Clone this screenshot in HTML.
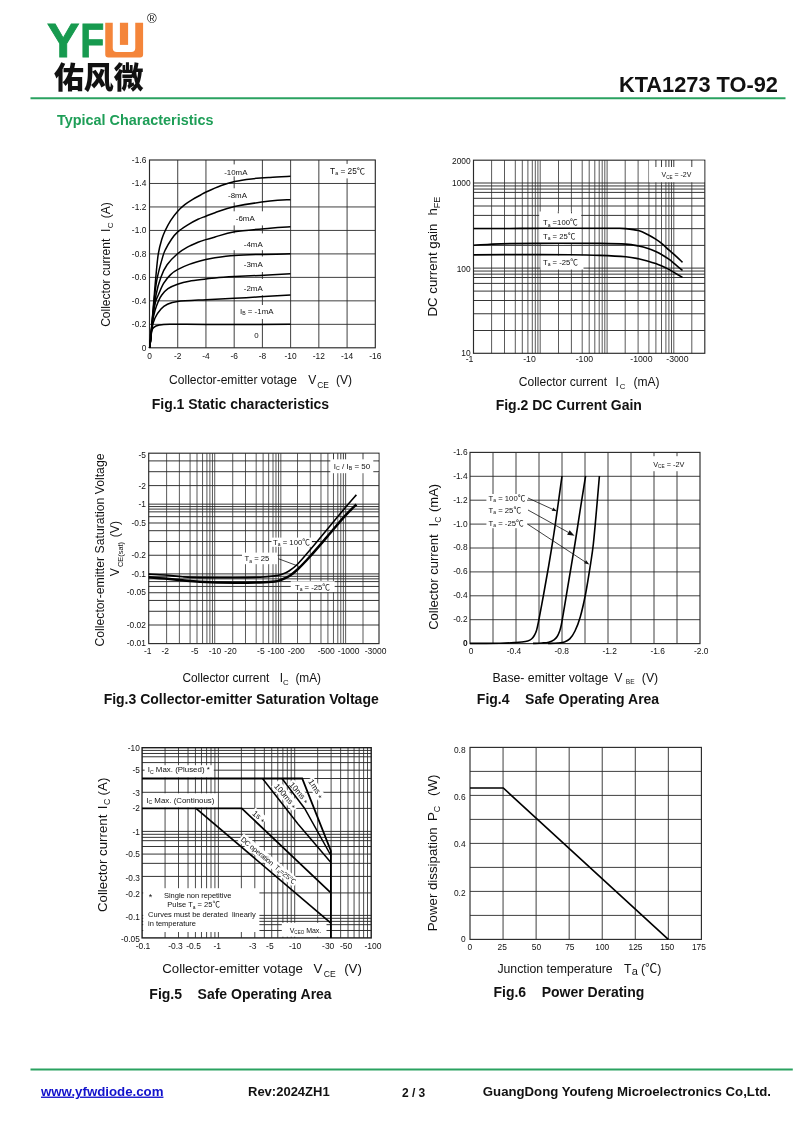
<!DOCTYPE html>
<html lang="en">
<head>
<meta charset="utf-8">
<title>KTA1273 TO-92 - Typical Characteristics</title>
<style>
html,body{margin:0;padding:0;background:#fff;}
body{width:800px;height:1131px;overflow:hidden;font-family:"Liberation Sans","Noto Sans CJK SC",sans-serif;}
svg{display:block;}
svg text{white-space:pre;}
</style>
</head>
<body>
<svg width="800" height="1131" viewBox="0 0 800 1131">
<rect x="0" y="0" width="800" height="1131" fill="#fff"/>
<g font-family="'Liberation Sans', 'Noto Sans CJK SC', sans-serif">
<text x="47" y="57.3" font-size="48.6" text-anchor="start" font-weight="bold" fill="#179a4f" stroke="#179a4f" stroke-width="0.9">Y</text>
<text x="80.2" y="57.3" font-size="48.6" text-anchor="start" font-weight="bold" fill="#179a4f" textLength="24" lengthAdjust="spacingAndGlyphs" stroke="#179a4f" stroke-width="0.9">F</text>
<path d="M105.25 22.75H143.1V54.6a3 3 0 0 1 -3 3H108.25a3 3 0 0 1 -3 -3Z" fill="#f4853a"/>
<path d="M112.75 22H135.25V48a4 4 0 0 1 -4 4H116.75a4 4 0 0 1 -4 -4Z" fill="#fff"/>
<rect x="119.9" y="22.75" width="8.2" height="22.15" fill="#f4853a"/>
<text x="151.8" y="23" font-size="13.2" text-anchor="middle" font-weight="normal" fill="#222">®</text>
<text x="54" y="87.5" font-size="29.6" font-weight="900" fill="#111" font-family="'Noto Sans CJK SC', sans-serif" textLength="89.5" lengthAdjust="spacingAndGlyphs">佑风微</text>
<text x="778" y="92.1" font-size="21.8" text-anchor="end" font-weight="bold" fill="#111">KTA1273 TO-92</text>
<line x1="30.5" y1="98.3" x2="785.5" y2="98.3" stroke="#2aa260" stroke-width="2"/>
<text x="57" y="124.8" font-size="14.4" text-anchor="start" font-weight="bold" fill="#1e9e57">Typical Characteristics</text>
<line x1="177.72" y1="160" x2="177.72" y2="347.8" stroke="#2a2a2a" stroke-width="0.9"/>
<line x1="205.95" y1="160" x2="205.95" y2="347.8" stroke="#2a2a2a" stroke-width="0.9"/>
<line x1="234.18" y1="160" x2="234.18" y2="347.8" stroke="#2a2a2a" stroke-width="0.9"/>
<line x1="262.4" y1="160" x2="262.4" y2="347.8" stroke="#2a2a2a" stroke-width="0.9"/>
<line x1="290.62" y1="160" x2="290.62" y2="347.8" stroke="#2a2a2a" stroke-width="0.9"/>
<line x1="318.85" y1="160" x2="318.85" y2="347.8" stroke="#2a2a2a" stroke-width="0.9"/>
<line x1="347.08" y1="160" x2="347.08" y2="347.8" stroke="#2a2a2a" stroke-width="0.9"/>
<line x1="149.5" y1="183.47" x2="375.3" y2="183.47" stroke="#2a2a2a" stroke-width="0.9"/>
<line x1="149.5" y1="206.95" x2="375.3" y2="206.95" stroke="#2a2a2a" stroke-width="0.9"/>
<line x1="149.5" y1="230.43" x2="375.3" y2="230.43" stroke="#2a2a2a" stroke-width="0.9"/>
<line x1="149.5" y1="253.9" x2="375.3" y2="253.9" stroke="#2a2a2a" stroke-width="0.9"/>
<line x1="149.5" y1="277.38" x2="375.3" y2="277.38" stroke="#2a2a2a" stroke-width="0.9"/>
<line x1="149.5" y1="300.85" x2="375.3" y2="300.85" stroke="#2a2a2a" stroke-width="0.9"/>
<line x1="149.5" y1="324.33" x2="375.3" y2="324.33" stroke="#2a2a2a" stroke-width="0.9"/>
<rect x="149.5" y="160" width="225.8" height="187.8" fill="none" stroke="#2a2a2a" stroke-width="1.15"/>
<rect x="222" y="164.4" width="28" height="12" fill="#fff"/>
<rect x="226" y="188.3" width="23" height="14.1" fill="#fff"/>
<rect x="233" y="211.3" width="31.5" height="14.1" fill="#fff"/>
<rect x="233" y="233.4" width="31.5" height="16.8" fill="#fff"/>
<rect x="243" y="256.5" width="21.5" height="15.5" fill="#fff"/>
<rect x="243" y="279" width="21.5" height="16.2" fill="#fff"/>
<rect x="239.5" y="305" width="34.5" height="14" fill="#fff"/>
<rect x="328" y="163.9" width="39" height="14.5" fill="#fff"/>
<path d="M149.6 347.8C149.83 345.67 150.5 340.47 151 335C151.5 329.53 152.05 321.67 152.6 315C153.15 308.33 153.77 301.3 154.3 295C154.83 288.7 155.13 284.07 155.8 277.2C156.47 270.33 157.3 260.13 158.3 253.8C159.3 247.47 160.63 243.1 161.8 239.2C162.97 235.3 163.83 233.5 165.3 230.4C166.77 227.3 168.57 223.77 170.6 220.6C172.63 217.43 175.13 214.05 177.5 211.4C179.87 208.75 182.27 206.7 184.8 204.7C187.33 202.7 190.05 201.02 192.7 199.4C195.35 197.78 198.47 196.23 200.7 195C202.93 193.77 202.67 193.58 206.1 192C209.53 190.42 216.55 187.25 221.3 185.5C226.05 183.75 229.6 182.6 234.6 181.5C239.6 180.4 245.4 179.58 251.3 178.9C257.2 178.22 263.47 177.83 270 177.4C276.53 176.97 287.08 176.48 290.5 176.3" fill="none" stroke="#000" stroke-width="1.5" stroke-linejoin="round"/>
<path d="M149.6 347.8C149.83 345.83 150.47 341.3 151 336C151.53 330.7 152.18 322.83 152.8 316C153.42 309.17 153.93 301.47 154.7 295C155.47 288.53 156.07 283.55 157.4 277.2C158.73 270.85 161.38 261.47 162.7 256.9C164.02 252.33 163.83 252.75 165.3 249.8C166.77 246.85 169.47 242.15 171.5 239.2C173.53 236.25 174.85 234.45 177.5 232.1C180.15 229.75 183.98 227.23 187.4 225.1C190.82 222.97 194.93 220.78 198 219.3C201.07 217.82 202.97 217.3 205.8 216.2C208.63 215.1 210.2 214.3 215 212.7C219.8 211.1 225.43 208.55 234.6 206.6C243.77 204.65 260.68 202.15 270 201C279.32 199.85 287.08 199.92 290.5 199.7" fill="none" stroke="#000" stroke-width="1.5" stroke-linejoin="round"/>
<path d="M149.6 347.8C149.83 346 150.4 342.3 151 337C151.6 331.7 152.37 323 153.2 316C154.03 309 154.72 301.47 156 295C157.28 288.53 159.05 282.23 160.9 277.2C162.75 272.17 164.33 268.7 167.1 264.8C169.87 260.9 174.12 256.73 177.5 253.8C180.88 250.87 183.98 249.12 187.4 247.2C190.82 245.28 194.93 243.57 198 242.3C201.07 241.03 202.97 240.48 205.8 239.6C208.63 238.72 210.2 238.3 215 237C219.8 235.7 225.43 233.27 234.6 231.8C243.77 230.33 260.68 229.03 270 228.2C279.32 227.37 287.08 227.03 290.5 226.8" fill="none" stroke="#000" stroke-width="1.5" stroke-linejoin="round"/>
<path d="M149.6 347.8C149.82 346.17 150.38 343.47 150.9 338C151.43 332.53 151.98 321 152.75 315C153.52 309 154.57 305.33 155.5 302C156.43 298.67 156.95 298.1 158.3 295C159.65 291.9 161.55 286.8 163.6 283.4C165.65 280 168.28 276.88 170.6 274.6C172.92 272.32 174.4 271.4 177.5 269.7C180.6 268 184.48 266.1 189.2 264.4C193.92 262.7 201.5 260.6 205.8 259.5C210.1 258.4 210.22 258.45 215 257.8C219.78 257.15 227 256.17 234.5 255.6C242 255.03 250.67 254.7 260 254.4C269.33 254.1 285.42 253.9 290.5 253.8" fill="none" stroke="#000" stroke-width="1.5" stroke-linejoin="round"/>
<path d="M149.6 347.8C149.8 346.33 150.4 342.97 150.8 339C151.2 335.03 151.3 328.75 152 324C152.7 319.25 153.92 314.33 155 310.5C156.08 306.67 157.37 303.58 158.5 301C159.63 298.42 160.22 297.05 161.8 295C163.38 292.95 165.38 290.48 168 288.7C170.62 286.92 173.97 285.55 177.5 284.3C181.03 283.05 184.48 282.08 189.2 281.2C193.92 280.32 201.5 279.55 205.8 279C210.1 278.45 210.22 278.3 215 277.9C219.78 277.5 227 277.02 234.5 276.6C242 276.18 250.67 275.87 260 275.4C269.33 274.93 285.42 274.07 290.5 273.8" fill="none" stroke="#000" stroke-width="1.5" stroke-linejoin="round"/>
<path d="M149.6 347.8C149.77 346.5 150.28 342.97 150.6 340C150.92 337.03 150.77 333.67 151.5 330C152.23 326.33 153.42 321.5 155 318C156.58 314.5 159 311.25 161 309C163 306.75 164.25 305.75 167 304.5C169.75 303.25 171 302.3 177.5 301.5C184 300.7 196.5 300.23 206 299.7C215.5 299.17 225.5 298.78 234.5 298.3C243.5 297.82 250.67 297.37 260 296.8C269.33 296.23 285.42 295.22 290.5 294.9" fill="none" stroke="#000" stroke-width="1.5" stroke-linejoin="round"/>
<path d="M149.6 347.8C149.7 346.67 150 343.47 150.2 341C150.4 338.53 150.25 335.23 150.8 333C151.35 330.77 152.05 328.93 153.5 327.6C154.95 326.27 156.75 325.55 159.5 325C162.25 324.45 162.25 324.38 170 324.3C177.75 324.22 191 324.48 206 324.5C221 324.52 245.92 324.43 260 324.4C274.08 324.37 285.42 324.32 290.5 324.3" fill="none" stroke="#000" stroke-width="1.5" stroke-linejoin="round"/>
<text x="235.8" y="174.6" font-size="7.9" text-anchor="middle" font-weight="normal" fill="#111">-10mA</text>
<text x="237.5" y="197.8" font-size="7.9" text-anchor="middle" font-weight="normal" fill="#111">-8mA</text>
<text x="245.25" y="221.3" font-size="7.9" text-anchor="middle" font-weight="normal" fill="#111">-6mA</text>
<text x="253.25" y="246.5" font-size="7.9" text-anchor="middle" font-weight="normal" fill="#111">-4mA</text>
<text x="253.25" y="266.8" font-size="7.9" text-anchor="middle" font-weight="normal" fill="#111">-3mA</text>
<text x="253.25" y="291.1" font-size="7.9" text-anchor="middle" font-weight="normal" fill="#111">-2mA</text>
<text x="256.4" y="337.5" font-size="7.9" text-anchor="middle" font-weight="normal" fill="#111">0</text>
<text x="256.75" y="314.1" font-size="7.9" text-anchor="middle" font-weight="normal" fill="#111">I<tspan dy="1.2" font-size="65%">B</tspan><tspan dy="-1.2">&#8203;</tspan> = -1mA</text>
<text x="347.6" y="174.1" font-size="8.3" text-anchor="middle" font-weight="normal" fill="#111">T<tspan dy="1.2" font-size="65%">a</tspan><tspan dy="-1.2">&#8203;</tspan> = 25℃</text>
<text x="146.3" y="162.9" font-size="8.4" text-anchor="end" font-weight="normal" fill="#111">-1.6</text>
<text x="146.3" y="186.38" font-size="8.4" text-anchor="end" font-weight="normal" fill="#111">-1.4</text>
<text x="146.3" y="209.85" font-size="8.4" text-anchor="end" font-weight="normal" fill="#111">-1.2</text>
<text x="146.3" y="233.33" font-size="8.4" text-anchor="end" font-weight="normal" fill="#111">-1.0</text>
<text x="146.3" y="256.8" font-size="8.4" text-anchor="end" font-weight="normal" fill="#111">-0.8</text>
<text x="146.3" y="280.27" font-size="8.4" text-anchor="end" font-weight="normal" fill="#111">-0.6</text>
<text x="146.3" y="303.75" font-size="8.4" text-anchor="end" font-weight="normal" fill="#111">-0.4</text>
<text x="146.3" y="327.23" font-size="8.4" text-anchor="end" font-weight="normal" fill="#111">-0.2</text>
<text x="146.3" y="350.7" font-size="8.4" text-anchor="end" font-weight="normal" fill="#111">0</text>
<text x="149.5" y="359.2" font-size="8.4" text-anchor="middle" font-weight="normal" fill="#111">0</text>
<text x="177.72" y="359.2" font-size="8.4" text-anchor="middle" font-weight="normal" fill="#111">-2</text>
<text x="205.95" y="359.2" font-size="8.4" text-anchor="middle" font-weight="normal" fill="#111">-4</text>
<text x="234.18" y="359.2" font-size="8.4" text-anchor="middle" font-weight="normal" fill="#111">-6</text>
<text x="262.4" y="359.2" font-size="8.4" text-anchor="middle" font-weight="normal" fill="#111">-8</text>
<text x="290.62" y="359.2" font-size="8.4" text-anchor="middle" font-weight="normal" fill="#111">-10</text>
<text x="318.85" y="359.2" font-size="8.4" text-anchor="middle" font-weight="normal" fill="#111">-12</text>
<text x="347.08" y="359.2" font-size="8.4" text-anchor="middle" font-weight="normal" fill="#111">-14</text>
<text x="375.3" y="359.2" font-size="8.4" text-anchor="middle" font-weight="normal" fill="#111">-16</text>
<text x="169.1" y="384" font-size="12.05" text-anchor="start" font-weight="normal" fill="#111">Collector-emitter votage</text>
<text x="308.3" y="384" font-size="12.05" text-anchor="start" font-weight="normal" fill="#111">V</text>
<text x="317.3" y="387.5" font-size="8.4" text-anchor="start" font-weight="normal" fill="#111">CE</text>
<text x="336" y="384" font-size="12.05" text-anchor="start" font-weight="normal" fill="#111">(V)</text>
<text transform="translate(110.3 326.8) rotate(-90)" font-size="12" fill="#111">Collector current</text>
<text transform="translate(110.3 232) rotate(-90)" font-size="12" fill="#111">I</text>
<text transform="translate(112.8 228.2) rotate(-90)" font-size="8" fill="#111">C</text>
<text transform="translate(110.3 218.3) rotate(-90)" font-size="12" fill="#111">(A)</text>
<text x="240.4" y="409" font-size="14" text-anchor="middle" font-weight="bold" fill="#111" xml:space="preserve">Fig.1 Static characteristics</text>
<line x1="491.6" y1="160.2" x2="491.6" y2="353.3" stroke="#2a2a2a" stroke-width="0.78"/>
<line x1="504.5" y1="160.2" x2="504.5" y2="353.3" stroke="#2a2a2a" stroke-width="0.78"/>
<line x1="515.3" y1="160.2" x2="515.3" y2="353.3" stroke="#2a2a2a" stroke-width="0.78"/>
<line x1="522.3" y1="160.2" x2="522.3" y2="353.3" stroke="#2a2a2a" stroke-width="0.78"/>
<line x1="527.9" y1="160.2" x2="527.9" y2="353.3" stroke="#2a2a2a" stroke-width="0.78"/>
<line x1="532.3" y1="160.2" x2="532.3" y2="353.3" stroke="#2a2a2a" stroke-width="0.78"/>
<line x1="535.3" y1="160.2" x2="535.3" y2="353.3" stroke="#2a2a2a" stroke-width="0.78"/>
<line x1="537.9" y1="160.2" x2="537.9" y2="353.3" stroke="#2a2a2a" stroke-width="0.78"/>
<line x1="540.2" y1="160.2" x2="540.2" y2="353.3" stroke="#2a2a2a" stroke-width="0.78"/>
<line x1="558.5" y1="160.2" x2="558.5" y2="353.3" stroke="#2a2a2a" stroke-width="0.78"/>
<line x1="571.4" y1="160.2" x2="571.4" y2="353.3" stroke="#2a2a2a" stroke-width="0.78"/>
<line x1="582.2" y1="160.2" x2="582.2" y2="353.3" stroke="#2a2a2a" stroke-width="0.78"/>
<line x1="589.2" y1="160.2" x2="589.2" y2="353.3" stroke="#2a2a2a" stroke-width="0.78"/>
<line x1="594.8" y1="160.2" x2="594.8" y2="353.3" stroke="#2a2a2a" stroke-width="0.78"/>
<line x1="599.2" y1="160.2" x2="599.2" y2="353.3" stroke="#2a2a2a" stroke-width="0.78"/>
<line x1="602.2" y1="160.2" x2="602.2" y2="353.3" stroke="#2a2a2a" stroke-width="0.78"/>
<line x1="604.8" y1="160.2" x2="604.8" y2="353.3" stroke="#2a2a2a" stroke-width="0.78"/>
<line x1="607.1" y1="160.2" x2="607.1" y2="353.3" stroke="#2a2a2a" stroke-width="0.78"/>
<line x1="625.2" y1="160.2" x2="625.2" y2="353.3" stroke="#2a2a2a" stroke-width="0.78"/>
<line x1="638.1" y1="160.2" x2="638.1" y2="353.3" stroke="#2a2a2a" stroke-width="0.78"/>
<line x1="648.9" y1="160.2" x2="648.9" y2="353.3" stroke="#2a2a2a" stroke-width="0.78"/>
<line x1="655.9" y1="160.2" x2="655.9" y2="353.3" stroke="#2a2a2a" stroke-width="0.78"/>
<line x1="661.5" y1="160.2" x2="661.5" y2="353.3" stroke="#2a2a2a" stroke-width="0.78"/>
<line x1="665.9" y1="160.2" x2="665.9" y2="353.3" stroke="#2a2a2a" stroke-width="0.78"/>
<line x1="668.9" y1="160.2" x2="668.9" y2="353.3" stroke="#2a2a2a" stroke-width="0.78"/>
<line x1="671.5" y1="160.2" x2="671.5" y2="353.3" stroke="#2a2a2a" stroke-width="0.78"/>
<line x1="673.8" y1="160.2" x2="673.8" y2="353.3" stroke="#2a2a2a" stroke-width="0.78"/>
<line x1="691.8" y1="160.2" x2="691.8" y2="353.3" stroke="#2a2a2a" stroke-width="0.78"/>
<line x1="473.5" y1="183" x2="704.8" y2="183" stroke="#2a2a2a" stroke-width="0.95"/>
<line x1="473.5" y1="185.95" x2="704.8" y2="185.95" stroke="#2a2a2a" stroke-width="0.95"/>
<line x1="473.5" y1="189.05" x2="704.8" y2="189.05" stroke="#2a2a2a" stroke-width="0.95"/>
<line x1="473.5" y1="192.4" x2="704.8" y2="192.4" stroke="#2a2a2a" stroke-width="0.95"/>
<line x1="473.5" y1="198.3" x2="704.8" y2="198.3" stroke="#2a2a2a" stroke-width="0.95"/>
<line x1="473.5" y1="206" x2="704.8" y2="206" stroke="#2a2a2a" stroke-width="0.95"/>
<line x1="473.5" y1="215.4" x2="704.8" y2="215.4" stroke="#2a2a2a" stroke-width="0.95"/>
<line x1="473.5" y1="228.65" x2="704.8" y2="228.65" stroke="#2a2a2a" stroke-width="0.95"/>
<line x1="473.5" y1="245.4" x2="704.8" y2="245.4" stroke="#2a2a2a" stroke-width="0.95"/>
<line x1="473.5" y1="268.1" x2="704.8" y2="268.1" stroke="#2a2a2a" stroke-width="0.95"/>
<line x1="473.5" y1="271.05" x2="704.8" y2="271.05" stroke="#2a2a2a" stroke-width="0.95"/>
<line x1="473.5" y1="274.15" x2="704.8" y2="274.15" stroke="#2a2a2a" stroke-width="0.95"/>
<line x1="473.5" y1="277.5" x2="704.8" y2="277.5" stroke="#2a2a2a" stroke-width="0.95"/>
<line x1="473.5" y1="283.4" x2="704.8" y2="283.4" stroke="#2a2a2a" stroke-width="0.95"/>
<line x1="473.5" y1="291.1" x2="704.8" y2="291.1" stroke="#2a2a2a" stroke-width="0.95"/>
<line x1="473.5" y1="300.5" x2="704.8" y2="300.5" stroke="#2a2a2a" stroke-width="0.95"/>
<line x1="473.5" y1="313.75" x2="704.8" y2="313.75" stroke="#2a2a2a" stroke-width="0.95"/>
<line x1="473.5" y1="330.5" x2="704.8" y2="330.5" stroke="#2a2a2a" stroke-width="0.95"/>
<rect x="473.5" y="160.2" width="231.3" height="193.1" fill="none" stroke="#2a2a2a" stroke-width="1.15"/>
<rect x="649.1" y="160.6" width="55.1" height="21.6" fill="#fff"/>
<line x1="655.9" y1="160" x2="655.9" y2="167" stroke="#2a2a2a" stroke-width="0.9"/>
<line x1="661.5" y1="160" x2="661.5" y2="167" stroke="#2a2a2a" stroke-width="0.9"/>
<line x1="665.9" y1="160" x2="665.9" y2="167" stroke="#2a2a2a" stroke-width="0.9"/>
<line x1="668.9" y1="160" x2="668.9" y2="167" stroke="#2a2a2a" stroke-width="0.9"/>
<line x1="671.5" y1="160" x2="671.5" y2="167" stroke="#2a2a2a" stroke-width="0.9"/>
<line x1="673.8" y1="160" x2="673.8" y2="167" stroke="#2a2a2a" stroke-width="0.9"/>
<line x1="691.8" y1="160" x2="691.8" y2="167" stroke="#2a2a2a" stroke-width="0.9"/>
<text x="676.5" y="177.3" font-size="7" text-anchor="middle" font-weight="normal" fill="#111">V<tspan dy="1.2" font-size="65%">CE</tspan><tspan dy="-1.2">&#8203;</tspan> = -2V</text>
<rect x="539.2" y="211.5" width="42" height="17" fill="#fff"/>
<rect x="539.2" y="229" width="42" height="14" fill="#fff"/>
<rect x="540.5" y="255.5" width="43" height="14" fill="#fff"/>
<line x1="558.3" y1="211.5" x2="558.3" y2="213.3" stroke="#2a2a2a" stroke-width="0.9"/>
<line x1="571.5" y1="211.5" x2="571.5" y2="213.3" stroke="#2a2a2a" stroke-width="0.9"/>
<path d="M473.7 228.5C481.42 228.48 502.28 228.45 520 228.4C537.72 228.35 564.17 228.22 580 228.2C595.83 228.18 607.37 228.23 615 228.3C622.63 228.37 621.88 228.22 625.8 228.6C629.72 228.98 634.78 229.57 638.5 230.6C642.22 231.63 645.23 233.37 648.1 234.8C650.97 236.23 653.4 237.72 655.7 239.2C658 240.68 659.72 241.92 661.9 243.7C664.08 245.48 666.73 248.07 668.8 249.9C670.87 251.73 672.02 252.63 674.3 254.7C676.58 256.77 681.13 261.03 682.5 262.3" fill="none" stroke="#000" stroke-width="1.6" stroke-linejoin="round"/>
<path d="M473.7 245.2C476.42 245.03 483.95 244.47 490 244.2C496.05 243.93 498.33 243.75 510 243.6C521.67 243.45 545 243.33 560 243.3C575 243.27 589.03 243.27 600 243.4C610.97 243.53 619.38 243.67 625.8 244.1C632.22 244.53 634.78 245.27 638.5 246C642.22 246.73 645.23 247.58 648.1 248.5C650.97 249.42 653.4 250.47 655.7 251.5C658 252.53 659.72 253.42 661.9 254.7C664.08 255.98 666.73 257.72 668.8 259.2C670.87 260.68 672.02 261.72 674.3 263.6C676.58 265.48 681.13 269.35 682.5 270.5" fill="none" stroke="#000" stroke-width="1.6" stroke-linejoin="round"/>
<path d="M473.7 254.9C481.42 254.85 503.95 254.62 520 254.6C536.05 254.58 556.67 254.67 570 254.8C583.33 254.93 590.7 255.07 600 255.4C609.3 255.73 619.38 256.23 625.8 256.8C632.22 257.37 634.78 258.07 638.5 258.8C642.22 259.53 645.23 260.4 648.1 261.2C650.97 262 653.4 262.78 655.7 263.6C658 264.42 659.72 265.13 661.9 266.1C664.08 267.07 666.73 268.32 668.8 269.4C670.87 270.48 672.02 271.27 674.3 272.6C676.58 273.93 681.13 276.6 682.5 277.4" fill="none" stroke="#000" stroke-width="1.6" stroke-linejoin="round"/>
<text x="543" y="225.3" font-size="7.7" text-anchor="start" font-weight="normal" fill="#111">T<tspan dy="1.2" font-size="65%">a</tspan><tspan dy="-1.2">&#8203;</tspan> =100℃</text>
<text x="543" y="238.7" font-size="7.7" text-anchor="start" font-weight="normal" fill="#111">T<tspan dy="1.2" font-size="65%">a</tspan><tspan dy="-1.2">&#8203;</tspan> = 25℃</text>
<text x="543" y="264.7" font-size="7.7" text-anchor="start" font-weight="normal" fill="#111">T<tspan dy="1.2" font-size="65%">a</tspan><tspan dy="-1.2">&#8203;</tspan> = -25℃</text>
<text x="470.7" y="164.1" font-size="8.4" text-anchor="end" font-weight="normal" fill="#111">2000</text>
<text x="470.7" y="186.4" font-size="8.4" text-anchor="end" font-weight="normal" fill="#111">1000</text>
<text x="470.7" y="271.5" font-size="8.4" text-anchor="end" font-weight="normal" fill="#111">100</text>
<text x="470.7" y="355.5" font-size="8.4" text-anchor="end" font-weight="normal" fill="#111">10</text>
<text x="469.5" y="362.3" font-size="8.7" text-anchor="middle" font-weight="normal" fill="#111">-1</text>
<text x="529.5" y="362.3" font-size="8.7" text-anchor="middle" font-weight="normal" fill="#111">-10</text>
<text x="584.4" y="362.3" font-size="8.7" text-anchor="middle" font-weight="normal" fill="#111">-100</text>
<text x="641.4" y="362.3" font-size="8.7" text-anchor="middle" font-weight="normal" fill="#111">-1000</text>
<text x="677.4" y="362.3" font-size="8.7" text-anchor="middle" font-weight="normal" fill="#111">-3000</text>
<text x="518.75" y="386" font-size="12.05" text-anchor="start" font-weight="normal" fill="#111">Collector current</text>
<text x="615.6" y="386" font-size="12.05" text-anchor="start" font-weight="normal" fill="#111">I</text>
<text x="619.8" y="388.8" font-size="7.8" text-anchor="start" font-weight="normal" fill="#111">C</text>
<text x="633.5" y="386" font-size="12.05" text-anchor="start" font-weight="normal" fill="#111">(mA)</text>
<text transform="translate(436.9 316.5) rotate(-90)" font-size="13.27" fill="#111">DC current gain</text>
<text transform="translate(436.9 215.6) rotate(-90)" font-size="13.27" fill="#111">h</text>
<text transform="translate(439.6 208.2) rotate(-90)" font-size="9" fill="#111">FE</text>
<text x="568.8" y="409.5" font-size="14" text-anchor="middle" font-weight="bold" fill="#111" xml:space="preserve">Fig.2 DC Current Gain</text>
<line x1="166.62" y1="453.2" x2="166.62" y2="643.6" stroke="#2a2a2a" stroke-width="0.78"/>
<line x1="179.39" y1="453.2" x2="179.39" y2="643.6" stroke="#2a2a2a" stroke-width="0.78"/>
<line x1="190.08" y1="453.2" x2="190.08" y2="643.6" stroke="#2a2a2a" stroke-width="0.78"/>
<line x1="197.01" y1="453.2" x2="197.01" y2="643.6" stroke="#2a2a2a" stroke-width="0.78"/>
<line x1="202.56" y1="453.2" x2="202.56" y2="643.6" stroke="#2a2a2a" stroke-width="0.78"/>
<line x1="206.91" y1="453.2" x2="206.91" y2="643.6" stroke="#2a2a2a" stroke-width="0.78"/>
<line x1="209.88" y1="453.2" x2="209.88" y2="643.6" stroke="#2a2a2a" stroke-width="0.78"/>
<line x1="212.46" y1="453.2" x2="212.46" y2="643.6" stroke="#2a2a2a" stroke-width="0.78"/>
<line x1="214.73" y1="453.2" x2="214.73" y2="643.6" stroke="#2a2a2a" stroke-width="0.78"/>
<line x1="232.72" y1="453.2" x2="232.72" y2="643.6" stroke="#2a2a2a" stroke-width="0.78"/>
<line x1="245.49" y1="453.2" x2="245.49" y2="643.6" stroke="#2a2a2a" stroke-width="0.78"/>
<line x1="256.18" y1="453.2" x2="256.18" y2="643.6" stroke="#2a2a2a" stroke-width="0.78"/>
<line x1="263.11" y1="453.2" x2="263.11" y2="643.6" stroke="#2a2a2a" stroke-width="0.78"/>
<line x1="268.66" y1="453.2" x2="268.66" y2="643.6" stroke="#2a2a2a" stroke-width="0.78"/>
<line x1="273.01" y1="453.2" x2="273.01" y2="643.6" stroke="#2a2a2a" stroke-width="0.78"/>
<line x1="275.98" y1="453.2" x2="275.98" y2="643.6" stroke="#2a2a2a" stroke-width="0.78"/>
<line x1="278.56" y1="453.2" x2="278.56" y2="643.6" stroke="#2a2a2a" stroke-width="0.78"/>
<line x1="280.83" y1="453.2" x2="280.83" y2="643.6" stroke="#2a2a2a" stroke-width="0.78"/>
<line x1="297.52" y1="453.2" x2="297.52" y2="643.6" stroke="#2a2a2a" stroke-width="0.78"/>
<line x1="310.29" y1="453.2" x2="310.29" y2="643.6" stroke="#2a2a2a" stroke-width="0.78"/>
<line x1="320.98" y1="453.2" x2="320.98" y2="643.6" stroke="#2a2a2a" stroke-width="0.78"/>
<line x1="327.91" y1="453.2" x2="327.91" y2="643.6" stroke="#2a2a2a" stroke-width="0.78"/>
<line x1="333.46" y1="453.2" x2="333.46" y2="643.6" stroke="#2a2a2a" stroke-width="0.78"/>
<line x1="337.81" y1="453.2" x2="337.81" y2="643.6" stroke="#2a2a2a" stroke-width="0.78"/>
<line x1="340.78" y1="453.2" x2="340.78" y2="643.6" stroke="#2a2a2a" stroke-width="0.78"/>
<line x1="343.36" y1="453.2" x2="343.36" y2="643.6" stroke="#2a2a2a" stroke-width="0.78"/>
<line x1="345.63" y1="453.2" x2="345.63" y2="643.6" stroke="#2a2a2a" stroke-width="0.78"/>
<line x1="363" y1="453.2" x2="363" y2="643.6" stroke="#2a2a2a" stroke-width="0.78"/>
<line x1="148.7" y1="460.9" x2="379" y2="460.9" stroke="#2a2a2a" stroke-width="0.95"/>
<line x1="148.7" y1="471.7" x2="379" y2="471.7" stroke="#2a2a2a" stroke-width="0.95"/>
<line x1="148.7" y1="485.6" x2="379" y2="485.6" stroke="#2a2a2a" stroke-width="0.95"/>
<line x1="148.7" y1="504.15" x2="379" y2="504.15" stroke="#2a2a2a" stroke-width="0.95"/>
<line x1="148.7" y1="506.57" x2="379" y2="506.57" stroke="#2a2a2a" stroke-width="0.95"/>
<line x1="148.7" y1="509.1" x2="379" y2="509.1" stroke="#2a2a2a" stroke-width="0.95"/>
<line x1="148.7" y1="511.85" x2="379" y2="511.85" stroke="#2a2a2a" stroke-width="0.95"/>
<line x1="148.7" y1="516.68" x2="379" y2="516.68" stroke="#2a2a2a" stroke-width="0.95"/>
<line x1="148.7" y1="522.99" x2="379" y2="522.99" stroke="#2a2a2a" stroke-width="0.95"/>
<line x1="148.7" y1="530.69" x2="379" y2="530.69" stroke="#2a2a2a" stroke-width="0.95"/>
<line x1="148.7" y1="541.54" x2="379" y2="541.54" stroke="#2a2a2a" stroke-width="0.95"/>
<line x1="148.7" y1="555.26" x2="379" y2="555.26" stroke="#2a2a2a" stroke-width="0.95"/>
<line x1="148.7" y1="573.9" x2="379" y2="573.9" stroke="#2a2a2a" stroke-width="0.95"/>
<line x1="148.7" y1="576.32" x2="379" y2="576.32" stroke="#2a2a2a" stroke-width="0.95"/>
<line x1="148.7" y1="578.85" x2="379" y2="578.85" stroke="#2a2a2a" stroke-width="0.95"/>
<line x1="148.7" y1="581.6" x2="379" y2="581.6" stroke="#2a2a2a" stroke-width="0.95"/>
<line x1="148.7" y1="586.43" x2="379" y2="586.43" stroke="#2a2a2a" stroke-width="0.95"/>
<line x1="148.7" y1="592.74" x2="379" y2="592.74" stroke="#2a2a2a" stroke-width="0.95"/>
<line x1="148.7" y1="600.44" x2="379" y2="600.44" stroke="#2a2a2a" stroke-width="0.95"/>
<line x1="148.7" y1="611.29" x2="379" y2="611.29" stroke="#2a2a2a" stroke-width="0.95"/>
<line x1="148.7" y1="625.01" x2="379" y2="625.01" stroke="#2a2a2a" stroke-width="0.95"/>
<rect x="148.7" y="453.2" width="230.3" height="190.4" fill="none" stroke="#2a2a2a" stroke-width="1.15"/>
<rect x="330.3" y="453.8" width="48.1" height="19.4" fill="#fff"/>
<line x1="333.5" y1="453.2" x2="333.5" y2="459.3" stroke="#2a2a2a" stroke-width="0.9"/>
<line x1="337.8" y1="453.2" x2="337.8" y2="459.3" stroke="#2a2a2a" stroke-width="0.9"/>
<line x1="340.8" y1="453.2" x2="340.8" y2="459.3" stroke="#2a2a2a" stroke-width="0.9"/>
<line x1="343.4" y1="453.2" x2="343.4" y2="459.3" stroke="#2a2a2a" stroke-width="0.9"/>
<line x1="345.6" y1="453.2" x2="345.6" y2="459.3" stroke="#2a2a2a" stroke-width="0.9"/>
<line x1="363" y1="453.2" x2="363" y2="459.3" stroke="#2a2a2a" stroke-width="0.9"/>
<line x1="373.3" y1="460.9" x2="379" y2="460.9" stroke="#2a2a2a" stroke-width="0.9"/>
<line x1="373.3" y1="471.7" x2="379" y2="471.7" stroke="#2a2a2a" stroke-width="0.9"/>
<text x="352" y="468.9" font-size="8" text-anchor="middle" font-weight="normal" fill="#111">I<tspan dy="1.2" font-size="65%">C</tspan><tspan dy="-1.2">&#8203;</tspan> / I<tspan dy="1.2" font-size="65%">B</tspan><tspan dy="-1.2">&#8203;</tspan> = 50</text>
<rect x="271.5" y="537.6" width="40.5" height="9.2" fill="#fff"/>
<rect x="242" y="552.6" width="35.6" height="11.6" fill="#fff"/>
<rect x="290.7" y="581.3" width="44" height="10.7" fill="#fff"/>
<line x1="311.8" y1="541.6" x2="317.5" y2="541.6" stroke="#111" stroke-width="0.8"/>
<line x1="278.5" y1="558.75" x2="299.5" y2="566.6" stroke="#111" stroke-width="0.8"/>
<path d="M148.7 574.1C151.42 574.25 159.37 574.56 165 575C170.63 575.44 176.67 576.32 182.5 576.75C188.33 577.18 191.25 577.44 200 577.6C208.75 577.76 225 577.77 235 577.7C245 577.63 253.33 577.5 260 577.2C266.67 576.9 271.33 576.38 275 575.9C278.67 575.42 279.67 575.12 282 574.3C284.33 573.48 286.38 572.72 289 571C291.62 569.28 294.25 567.5 297.75 564C301.25 560.5 305.04 555.83 310 550C314.96 544.17 321.67 536 327.5 529C333.33 522 340.18 513.68 345 508C349.82 502.32 354.5 497.08 356.4 494.9" fill="none" stroke="#000" stroke-width="1.6" stroke-linejoin="round"/>
<path d="M148.7 577.3C151.42 577.52 159.37 578.1 165 578.6C170.63 579.1 176.67 579.78 182.5 580.3C188.33 580.82 191.25 581.3 200 581.7C208.75 582.1 225 582.58 235 582.7C245 582.82 253.33 582.6 260 582.4C266.67 582.2 271.62 581.88 275 581.5C278.38 581.12 277.92 580.98 280.25 580.1C282.58 579.23 286.08 578.06 289 576.25C291.92 574.44 294.25 572.54 297.75 569.25C301.25 565.96 305.04 561.98 310 556.5C314.96 551.02 321.67 543.12 327.5 536.35C333.33 529.58 340.18 521.21 345 515.9C349.82 510.59 354.5 506.4 356.4 504.5" fill="none" stroke="#000" stroke-width="2.5" stroke-linejoin="round"/>
<text x="291.5" y="545.2" font-size="7.7" text-anchor="middle" font-weight="normal" fill="#111">T<tspan dy="1.2" font-size="65%">a</tspan><tspan dy="-1.2">&#8203;</tspan> = 100℃</text>
<text x="257" y="561.3" font-size="7.7" text-anchor="middle" font-weight="normal" fill="#111">T<tspan dy="1.2" font-size="65%">a</tspan><tspan dy="-1.2">&#8203;</tspan> = 25</text>
<text x="312.5" y="589.8" font-size="7.7" text-anchor="middle" font-weight="normal" fill="#111">T<tspan dy="1.2" font-size="65%">a</tspan><tspan dy="-1.2">&#8203;</tspan> = -25℃</text>
<text x="145.9" y="458.4" font-size="8.4" text-anchor="end" font-weight="normal" fill="#111">-5</text>
<text x="145.9" y="488.5" font-size="8.4" text-anchor="end" font-weight="normal" fill="#111">-2</text>
<text x="145.9" y="507" font-size="8.4" text-anchor="end" font-weight="normal" fill="#111">-1</text>
<text x="145.9" y="525.8" font-size="8.4" text-anchor="end" font-weight="normal" fill="#111">-0.5</text>
<text x="145.9" y="558.3" font-size="8.4" text-anchor="end" font-weight="normal" fill="#111">-0.2</text>
<text x="145.9" y="577.2" font-size="8.4" text-anchor="end" font-weight="normal" fill="#111">-0.1</text>
<text x="145.9" y="595.4" font-size="8.4" text-anchor="end" font-weight="normal" fill="#111">-0.05</text>
<text x="145.9" y="628.2" font-size="8.4" text-anchor="end" font-weight="normal" fill="#111">-0.02</text>
<text x="145.9" y="645.9" font-size="8.4" text-anchor="end" font-weight="normal" fill="#111">-0.01</text>
<text x="147.75" y="653.8" font-size="8.5" text-anchor="middle" font-weight="normal" fill="#111">-1</text>
<text x="165.3" y="653.8" font-size="8.5" text-anchor="middle" font-weight="normal" fill="#111">-2</text>
<text x="194.7" y="653.8" font-size="8.5" text-anchor="middle" font-weight="normal" fill="#111">-5</text>
<text x="215" y="653.8" font-size="8.5" text-anchor="middle" font-weight="normal" fill="#111">-10</text>
<text x="230.5" y="653.8" font-size="8.5" text-anchor="middle" font-weight="normal" fill="#111">-20</text>
<text x="260.9" y="653.8" font-size="8.5" text-anchor="middle" font-weight="normal" fill="#111">-5</text>
<text x="276" y="653.8" font-size="8.5" text-anchor="middle" font-weight="normal" fill="#111">-100</text>
<text x="296.3" y="653.8" font-size="8.5" text-anchor="middle" font-weight="normal" fill="#111">-200</text>
<text x="326.2" y="653.8" font-size="8.5" text-anchor="middle" font-weight="normal" fill="#111">-500</text>
<text x="348.7" y="653.8" font-size="8.5" text-anchor="middle" font-weight="normal" fill="#111">-1000</text>
<text x="375.6" y="653.8" font-size="8.5" text-anchor="middle" font-weight="normal" fill="#111">-3000</text>
<text x="182.4" y="682" font-size="11.85" text-anchor="start" font-weight="normal" fill="#111">Collector current</text>
<text x="279.7" y="682" font-size="11.85" text-anchor="start" font-weight="normal" fill="#111">I</text>
<text x="283" y="684.8" font-size="7.8" text-anchor="start" font-weight="normal" fill="#111">C</text>
<text x="295.4" y="682" font-size="11.85" text-anchor="start" font-weight="normal" fill="#111">(mA)</text>
<text transform="translate(103.9 646.6) rotate(-90)" font-size="12.24" fill="#111">Collector-emitter Saturation Voltage</text>
<text transform="translate(119.4 576.3) rotate(-90)" font-size="12.24" fill="#111">V</text>
<text transform="translate(123.3 567) rotate(-90)" font-size="7.4" fill="#111">CE(sat)</text>
<text transform="translate(119.4 537.2) rotate(-90)" font-size="12.24" fill="#111">(V)</text>
<text x="241.2" y="703.7" font-size="14" text-anchor="middle" font-weight="bold" fill="#111" xml:space="preserve">Fig.3 Collector-emitter Saturation Voltage</text>
<line x1="493" y1="452.4" x2="493" y2="643.6" stroke="#2a2a2a" stroke-width="0.9"/>
<line x1="516" y1="452.4" x2="516" y2="643.6" stroke="#2a2a2a" stroke-width="0.9"/>
<line x1="539" y1="452.4" x2="539" y2="643.6" stroke="#2a2a2a" stroke-width="0.9"/>
<line x1="562" y1="452.4" x2="562" y2="643.6" stroke="#2a2a2a" stroke-width="0.9"/>
<line x1="585" y1="452.4" x2="585" y2="643.6" stroke="#2a2a2a" stroke-width="0.9"/>
<line x1="608" y1="452.4" x2="608" y2="643.6" stroke="#2a2a2a" stroke-width="0.9"/>
<line x1="631" y1="452.4" x2="631" y2="643.6" stroke="#2a2a2a" stroke-width="0.9"/>
<line x1="654" y1="452.4" x2="654" y2="643.6" stroke="#2a2a2a" stroke-width="0.9"/>
<line x1="677" y1="452.4" x2="677" y2="643.6" stroke="#2a2a2a" stroke-width="0.9"/>
<line x1="470" y1="476.3" x2="700" y2="476.3" stroke="#2a2a2a" stroke-width="0.9"/>
<line x1="470" y1="500.2" x2="700" y2="500.2" stroke="#2a2a2a" stroke-width="0.9"/>
<line x1="470" y1="524.1" x2="700" y2="524.1" stroke="#2a2a2a" stroke-width="0.9"/>
<line x1="470" y1="548" x2="700" y2="548" stroke="#2a2a2a" stroke-width="0.9"/>
<line x1="470" y1="571.9" x2="700" y2="571.9" stroke="#2a2a2a" stroke-width="0.9"/>
<line x1="470" y1="595.8" x2="700" y2="595.8" stroke="#2a2a2a" stroke-width="0.9"/>
<line x1="470" y1="619.7" x2="700" y2="619.7" stroke="#2a2a2a" stroke-width="0.9"/>
<rect x="470" y="452.4" width="230" height="191.2" fill="none" stroke="#2a2a2a" stroke-width="1.15"/>
<rect x="486.4" y="494" width="40.6" height="34.2" fill="#fff"/>
<rect x="651.5" y="456.2" width="34" height="15" fill="#fff"/>
<path d="M470 643.4C475 643.37 492.42 643.33 500 643.2C507.58 643.07 511.83 642.8 515.5 642.6C519.17 642.4 519.96 642.28 522 642C524.04 641.72 526.17 641.4 527.75 640.9C529.33 640.4 530.41 639.9 531.5 639C532.59 638.1 533.47 636.92 534.3 635.5C535.13 634.08 535.82 632.71 536.5 630.5C537.18 628.29 537.23 628.17 538.4 622.25C539.57 616.33 541.77 604.46 543.5 595C545.23 585.54 547 575.83 548.75 565.5C550.5 555.17 552.46 543.08 554 533C555.54 522.92 556.67 514.5 558 505C559.33 495.5 561.33 480.83 562 476" fill="none" stroke="#000" stroke-width="1.6" stroke-linejoin="round"/>
<path d="M533 643.4C534.5 643.33 539.38 643.2 542 643C544.62 642.8 546.75 642.72 548.75 642.2C550.75 641.68 552.59 640.85 554 639.9C555.41 638.95 556.28 637.9 557.2 636.5C558.12 635.1 558.82 633.42 559.5 631.5C560.18 629.58 560.47 629.17 561.3 625C562.13 620.83 563.09 614.83 564.5 606.5C565.91 598.17 568 585.5 569.75 575C571.5 564.5 573.21 554.67 575 543.5C576.79 532.33 578.73 519.25 580.5 508C582.27 496.75 584.75 481.33 585.6 476" fill="none" stroke="#000" stroke-width="1.6" stroke-linejoin="round"/>
<path d="M548 643.4C549.67 643.33 555.25 643.23 558 643C560.75 642.77 562.54 642.68 564.5 642C566.46 641.32 568 640.73 569.75 638.9C571.5 637.07 573.25 634.65 575 631C576.75 627.35 578.5 623.12 580.25 617C582 610.88 583.75 603.29 585.5 594.25C587.25 585.21 589.43 571.21 590.75 562.75C592.07 554.29 592.44 552.29 593.4 543.5C594.36 534.71 595.5 521.25 596.5 510C597.5 498.75 598.92 481.67 599.4 476" fill="none" stroke="#000" stroke-width="1.6" stroke-linejoin="round"/>
<line x1="528" y1="498" x2="552.46" y2="509.22" stroke="#111" stroke-width="0.8"/>
<polygon points="557,511.3 551.7,510.85 553.21,507.58" fill="#111"/>
<line x1="528" y1="510" x2="568.38" y2="532.4" stroke="#111" stroke-width="0.8"/>
<polygon points="574.5,535.8 567.12,534.68 569.64,530.13" fill="#111"/>
<line x1="528" y1="524.4" x2="585.12" y2="561.86" stroke="#111" stroke-width="0.8"/>
<polygon points="589.3,564.6 584.13,563.36 586.11,560.35" fill="#111"/>
<text x="488.6" y="500.6" font-size="7.7" text-anchor="start" font-weight="normal" fill="#111">T<tspan dy="1.2" font-size="65%">a</tspan><tspan dy="-1.2">&#8203;</tspan> = 100℃</text>
<text x="488.6" y="513" font-size="7.7" text-anchor="start" font-weight="normal" fill="#111">T<tspan dy="1.2" font-size="65%">a</tspan><tspan dy="-1.2">&#8203;</tspan> = 25℃</text>
<text x="488.6" y="525.6" font-size="7.7" text-anchor="start" font-weight="normal" fill="#111">T<tspan dy="1.2" font-size="65%">a</tspan><tspan dy="-1.2">&#8203;</tspan> = -25℃</text>
<text x="668.75" y="466.5" font-size="7.3" text-anchor="middle" font-weight="normal" fill="#111">V<tspan dy="1.2" font-size="65%">CE</tspan><tspan dy="-1.2">&#8203;</tspan> = -2V</text>
<text x="467.6" y="454.8" font-size="8.4" text-anchor="end" font-weight="normal" fill="#111">-1.6</text>
<text x="467.6" y="478.7" font-size="8.4" text-anchor="end" font-weight="normal" fill="#111">-1.4</text>
<text x="467.6" y="502.6" font-size="8.4" text-anchor="end" font-weight="normal" fill="#111">-1.2</text>
<text x="467.6" y="526.5" font-size="8.4" text-anchor="end" font-weight="normal" fill="#111">-1.0</text>
<text x="467.6" y="550.4" font-size="8.4" text-anchor="end" font-weight="normal" fill="#111">-0.8</text>
<text x="467.6" y="574.3" font-size="8.4" text-anchor="end" font-weight="normal" fill="#111">-0.6</text>
<text x="467.6" y="598.2" font-size="8.4" text-anchor="end" font-weight="normal" fill="#111">-0.4</text>
<text x="467.6" y="622.1" font-size="8.4" text-anchor="end" font-weight="normal" fill="#111">-0.2</text>
<text x="467.6" y="646" font-size="8.4" text-anchor="end" font-weight="bold" fill="#111">0</text>
<text x="471" y="654.2" font-size="8.4" text-anchor="middle" font-weight="normal" fill="#111">0</text>
<text x="514" y="654.2" font-size="8.4" text-anchor="middle" font-weight="normal" fill="#111">-0.4</text>
<text x="561.8" y="654.2" font-size="8.4" text-anchor="middle" font-weight="normal" fill="#111">-0.8</text>
<text x="609.6" y="654.2" font-size="8.4" text-anchor="middle" font-weight="normal" fill="#111">-1.2</text>
<text x="657.6" y="654.2" font-size="8.4" text-anchor="middle" font-weight="normal" fill="#111">-1.6</text>
<text x="701.2" y="654.2" font-size="8.4" text-anchor="middle" font-weight="normal" fill="#111">-2.0</text>
<text x="492.4" y="681.9" font-size="12.27" text-anchor="start" font-weight="normal" fill="#111">Base- emitter voltage</text>
<text x="614.2" y="681.9" font-size="12.27" text-anchor="start" font-weight="normal" fill="#111">V</text>
<text x="625.8" y="684" font-size="6.6" text-anchor="start" font-weight="normal" fill="#111">BE</text>
<text x="641.8" y="681.9" font-size="12.27" text-anchor="start" font-weight="normal" fill="#111">(V)</text>
<text transform="translate(438.2 629.8) rotate(-90)" font-size="13.03" fill="#111">Collector current</text>
<text transform="translate(438.2 526.6) rotate(-90)" font-size="13.03" fill="#111">I</text>
<text transform="translate(440.8 522.8) rotate(-90)" font-size="8.6" fill="#111">C</text>
<text transform="translate(438.2 512) rotate(-90)" font-size="13.03" fill="#111">(mA)</text>
<text x="568" y="703.6" font-size="14" text-anchor="middle" font-weight="bold" fill="#111" xml:space="preserve">Fig.4    Safe Operating Area</text>
<line x1="165.07" y1="747.7" x2="165.07" y2="937.9" stroke="#2a2a2a" stroke-width="0.85"/>
<line x1="178.5" y1="747.7" x2="178.5" y2="937.9" stroke="#2a2a2a" stroke-width="0.85"/>
<line x1="188.04" y1="747.7" x2="188.04" y2="937.9" stroke="#2a2a2a" stroke-width="0.85"/>
<line x1="195.43" y1="747.7" x2="195.43" y2="937.9" stroke="#2a2a2a" stroke-width="0.85"/>
<line x1="201.47" y1="747.7" x2="201.47" y2="937.9" stroke="#2a2a2a" stroke-width="0.85"/>
<line x1="206.58" y1="747.7" x2="206.58" y2="937.9" stroke="#2a2a2a" stroke-width="0.85"/>
<line x1="211.01" y1="747.7" x2="211.01" y2="937.9" stroke="#2a2a2a" stroke-width="0.85"/>
<line x1="214.91" y1="747.7" x2="214.91" y2="937.9" stroke="#2a2a2a" stroke-width="0.85"/>
<line x1="218.4" y1="747.7" x2="218.4" y2="937.9" stroke="#2a2a2a" stroke-width="0.85"/>
<line x1="241.37" y1="747.7" x2="241.37" y2="937.9" stroke="#2a2a2a" stroke-width="0.85"/>
<line x1="254.8" y1="747.7" x2="254.8" y2="937.9" stroke="#2a2a2a" stroke-width="0.85"/>
<line x1="264.34" y1="747.7" x2="264.34" y2="937.9" stroke="#2a2a2a" stroke-width="0.85"/>
<line x1="271.73" y1="747.7" x2="271.73" y2="937.9" stroke="#2a2a2a" stroke-width="0.85"/>
<line x1="277.77" y1="747.7" x2="277.77" y2="937.9" stroke="#2a2a2a" stroke-width="0.85"/>
<line x1="282.88" y1="747.7" x2="282.88" y2="937.9" stroke="#2a2a2a" stroke-width="0.85"/>
<line x1="287.31" y1="747.7" x2="287.31" y2="937.9" stroke="#2a2a2a" stroke-width="0.85"/>
<line x1="291.21" y1="747.7" x2="291.21" y2="937.9" stroke="#2a2a2a" stroke-width="0.85"/>
<line x1="294.7" y1="747.7" x2="294.7" y2="937.9" stroke="#2a2a2a" stroke-width="0.85"/>
<line x1="317.67" y1="747.7" x2="317.67" y2="937.9" stroke="#2a2a2a" stroke-width="0.85"/>
<line x1="331.1" y1="747.7" x2="331.1" y2="937.9" stroke="#2a2a2a" stroke-width="0.85"/>
<line x1="340.64" y1="747.7" x2="340.64" y2="937.9" stroke="#2a2a2a" stroke-width="0.85"/>
<line x1="348.03" y1="747.7" x2="348.03" y2="937.9" stroke="#2a2a2a" stroke-width="0.85"/>
<line x1="354.07" y1="747.7" x2="354.07" y2="937.9" stroke="#2a2a2a" stroke-width="0.85"/>
<line x1="359.18" y1="747.7" x2="359.18" y2="937.9" stroke="#2a2a2a" stroke-width="0.85"/>
<line x1="363.61" y1="747.7" x2="363.61" y2="937.9" stroke="#2a2a2a" stroke-width="0.85"/>
<line x1="367.51" y1="747.7" x2="367.51" y2="937.9" stroke="#2a2a2a" stroke-width="0.85"/>
<line x1="142.1" y1="750.41" x2="371.2" y2="750.41" stroke="#2a2a2a" stroke-width="0.95"/>
<line x1="142.1" y1="753.47" x2="371.2" y2="753.47" stroke="#2a2a2a" stroke-width="0.95"/>
<line x1="142.1" y1="756.77" x2="371.2" y2="756.77" stroke="#2a2a2a" stroke-width="0.95"/>
<line x1="142.1" y1="762.59" x2="371.2" y2="762.59" stroke="#2a2a2a" stroke-width="0.95"/>
<line x1="142.1" y1="770.18" x2="371.2" y2="770.18" stroke="#2a2a2a" stroke-width="0.95"/>
<line x1="142.1" y1="778.5" x2="371.2" y2="778.5" stroke="#2a2a2a" stroke-width="0.95"/>
<line x1="142.1" y1="792.3" x2="371.2" y2="792.3" stroke="#2a2a2a" stroke-width="0.95"/>
<line x1="142.1" y1="808.4" x2="371.2" y2="808.4" stroke="#2a2a2a" stroke-width="0.95"/>
<line x1="142.1" y1="831.4" x2="371.2" y2="831.4" stroke="#2a2a2a" stroke-width="0.95"/>
<line x1="142.1" y1="834.31" x2="371.2" y2="834.31" stroke="#2a2a2a" stroke-width="0.95"/>
<line x1="142.1" y1="837.37" x2="371.2" y2="837.37" stroke="#2a2a2a" stroke-width="0.95"/>
<line x1="142.1" y1="840.67" x2="371.2" y2="840.67" stroke="#2a2a2a" stroke-width="0.95"/>
<line x1="142.1" y1="846.49" x2="371.2" y2="846.49" stroke="#2a2a2a" stroke-width="0.95"/>
<line x1="142.1" y1="854.08" x2="371.2" y2="854.08" stroke="#2a2a2a" stroke-width="0.95"/>
<line x1="142.1" y1="863.35" x2="371.2" y2="863.35" stroke="#2a2a2a" stroke-width="0.95"/>
<line x1="142.1" y1="876.41" x2="371.2" y2="876.41" stroke="#2a2a2a" stroke-width="0.95"/>
<line x1="142.1" y1="892.93" x2="371.2" y2="892.93" stroke="#2a2a2a" stroke-width="0.95"/>
<line x1="142.1" y1="915.4" x2="371.2" y2="915.4" stroke="#2a2a2a" stroke-width="0.95"/>
<line x1="142.1" y1="918.31" x2="371.2" y2="918.31" stroke="#2a2a2a" stroke-width="0.95"/>
<line x1="142.1" y1="921.37" x2="371.2" y2="921.37" stroke="#2a2a2a" stroke-width="0.95"/>
<line x1="142.1" y1="924.67" x2="371.2" y2="924.67" stroke="#2a2a2a" stroke-width="0.95"/>
<line x1="142.1" y1="930.49" x2="371.2" y2="930.49" stroke="#2a2a2a" stroke-width="0.95"/>
<rect x="142.1" y="747.7" width="229.1" height="190.2" fill="none" stroke="#1c1c1c" stroke-width="1.4"/>
<rect x="144.6" y="765.2" width="69.2" height="12.3" fill="#fff"/>
<rect x="142.8" y="793.3" width="74.7" height="14.2" fill="#fff"/>
<rect x="143.2" y="888.2" width="116.2" height="43.8" fill="#fff"/>
<rect x="281.8" y="922.8" width="44.7" height="13.9" fill="#fff"/>
<g transform="translate(308.1 781.6) rotate(57)"><rect x="-1.5" y="-7" width="23.5" height="9" fill="#fff"/><text x="0" y="0" font-size="8.1" fill="#111">1ms <tspan dy="2.2">*</tspan></text></g>
<g transform="translate(288.8 784.9) rotate(49.5)"><rect x="-1.5" y="-7.5" width="28.5" height="9.5" fill="#fff"/><text x="0" y="0" font-size="8.1" fill="#111">10ms <tspan dy="2.2">*</tspan></text></g>
<g transform="translate(273.8 786.4) rotate(49.5)"><rect x="-1.5" y="-8" width="32.8" height="10" fill="#fff"/><text x="0" y="0" font-size="8.1" fill="#111">100ms <tspan dy="2.2">*</tspan></text></g>
<g transform="translate(251.8 814.2) rotate(40)"><rect x="-1.5" y="-7.5" width="16" height="9.5" fill="#fff"/><text x="0" y="0" font-size="8.1" fill="#111">1s <tspan dy="2.2">*</tspan></text></g>
<g transform="translate(240.25 840.2) rotate(39.8)"><rect x="-1.5" y="-7.5" width="72.2" height="9.5" fill="#fff"/><text x="0" y="0" font-size="7.2" fill="#111" textLength="69.2" lengthAdjust="spacing">DC operation  T<tspan dy="1.2" font-size="65%">a</tspan><tspan dy="-1.2">&#8203;</tspan>=25℃</text></g>
<path d="M142.1 778.5L302.2 778.5L330.9 851L330.9 937.9" fill="none" stroke="#000" stroke-width="1.8" stroke-linejoin="miter"/>
<path d="M282 778.5L304.5 808.25L330.9 855.5" fill="none" stroke="#000" stroke-width="1.5" stroke-linejoin="miter"/>
<path d="M262.5 778.5L298 824L330.9 862.4" fill="none" stroke="#000" stroke-width="1.5" stroke-linejoin="miter"/>
<path d="M142.1 808.4L241.75 808.4L330.9 892.8" fill="none" stroke="#000" stroke-width="1.7" stroke-linejoin="miter"/>
<path d="M196 808.4L330.9 923.2" fill="none" stroke="#000" stroke-width="1.7" stroke-linejoin="miter"/>
<text x="147.75" y="772.4" font-size="7.9" text-anchor="start" font-weight="normal" fill="#111">I<tspan dy="1.2" font-size="65%">C</tspan><tspan dy="-1.2">&#8203;</tspan> Max. (Plused) *</text>
<text x="146.25" y="802.6" font-size="7.9" text-anchor="start" font-weight="normal" fill="#111">I<tspan dy="1.2" font-size="65%">C</tspan><tspan dy="-1.2">&#8203;</tspan> Max. (Continous)</text>
<text x="150.6" y="900.3" font-size="9" text-anchor="middle" font-weight="normal" fill="#111">*</text>
<text x="164" y="898" font-size="7.5" text-anchor="start" font-weight="normal" fill="#111" textLength="67.3" lengthAdjust="spacing">Single non repetitive</text>
<text x="167.3" y="907.4" font-size="7.5" text-anchor="start" font-weight="normal" fill="#111" textLength="52.7" lengthAdjust="spacing">Pulse T<tspan dy="1.2" font-size="65%">a</tspan><tspan dy="-1.2">&#8203;</tspan> = 25℃</text>
<text x="148.1" y="916.7" font-size="7.5" text-anchor="start" font-weight="normal" fill="#111" textLength="107.6" lengthAdjust="spacing">Curves must be derated  linearly</text>
<text x="148.1" y="925.6" font-size="7.5" text-anchor="start" font-weight="normal" fill="#111" textLength="47.9" lengthAdjust="spacing">in temperature</text>
<text x="305.5" y="933" font-size="7" text-anchor="middle" font-weight="normal" fill="#111">V<tspan dy="1.2" font-size="65%">CEO</tspan><tspan dy="-1.2">&#8203;</tspan> Max.</text>
<text x="139.8" y="751.4" font-size="8.3" text-anchor="end" font-weight="normal" fill="#111">-10</text>
<text x="139.8" y="772.7" font-size="8.3" text-anchor="end" font-weight="normal" fill="#111">-5</text>
<text x="139.8" y="796.3" font-size="8.3" text-anchor="end" font-weight="normal" fill="#111">-3</text>
<text x="139.8" y="810.8" font-size="8.3" text-anchor="end" font-weight="normal" fill="#111">-2</text>
<text x="139.8" y="835" font-size="8.3" text-anchor="end" font-weight="normal" fill="#111">-1</text>
<text x="139.8" y="856.7" font-size="8.3" text-anchor="end" font-weight="normal" fill="#111">-0.5</text>
<text x="139.8" y="880.6" font-size="8.3" text-anchor="end" font-weight="normal" fill="#111">-0.3</text>
<text x="139.8" y="896.8" font-size="8.3" text-anchor="end" font-weight="normal" fill="#111">-0.2</text>
<text x="139.8" y="919.9" font-size="8.3" text-anchor="end" font-weight="normal" fill="#111">-0.1</text>
<text x="139.8" y="941.5" font-size="8.3" text-anchor="end" font-weight="normal" fill="#111">-0.05</text>
<text x="143" y="949.4" font-size="8.5" text-anchor="middle" font-weight="normal" fill="#111">-0.1</text>
<text x="175.5" y="949.4" font-size="8.5" text-anchor="middle" font-weight="normal" fill="#111">-0.3</text>
<text x="193.6" y="949.4" font-size="8.5" text-anchor="middle" font-weight="normal" fill="#111">-0.5</text>
<text x="217.2" y="949.4" font-size="8.5" text-anchor="middle" font-weight="normal" fill="#111">-1</text>
<text x="252.7" y="949.4" font-size="8.5" text-anchor="middle" font-weight="normal" fill="#111">-3</text>
<text x="269.9" y="949.4" font-size="8.5" text-anchor="middle" font-weight="normal" fill="#111">-5</text>
<text x="295.1" y="949.4" font-size="8.5" text-anchor="middle" font-weight="normal" fill="#111">-10</text>
<text x="328.2" y="949.4" font-size="8.5" text-anchor="middle" font-weight="normal" fill="#111">-30</text>
<text x="346.1" y="949.4" font-size="8.5" text-anchor="middle" font-weight="normal" fill="#111">-50</text>
<text x="373" y="949.4" font-size="8.5" text-anchor="middle" font-weight="normal" fill="#111">-100</text>
<text x="162.3" y="973.3" font-size="13.25" text-anchor="start" font-weight="normal" fill="#111">Collector-emitter votage</text>
<text x="313.5" y="973.3" font-size="13.25" text-anchor="start" font-weight="normal" fill="#111">V</text>
<text x="323.8" y="977" font-size="8.6" text-anchor="start" font-weight="normal" fill="#111">CE</text>
<text x="344.2" y="973.3" font-size="13.25" text-anchor="start" font-weight="normal" fill="#111">(V)</text>
<text transform="translate(106.9 912.1) rotate(-90)" font-size="13.3" fill="#111">Collector current</text>
<text transform="translate(106.9 809.3) rotate(-90)" font-size="13.3" fill="#111">I</text>
<text transform="translate(109.5 804.9) rotate(-90)" font-size="8.8" fill="#111">C</text>
<text transform="translate(106.9 795.4) rotate(-90)" font-size="13.3" fill="#111">(A)</text>
<text x="240.5" y="998.5" font-size="14" text-anchor="middle" font-weight="bold" fill="#111" xml:space="preserve">Fig.5    Safe Operating Area</text>
<line x1="503.06" y1="747.4" x2="503.06" y2="939.4" stroke="#2a2a2a" stroke-width="0.9"/>
<line x1="536.11" y1="747.4" x2="536.11" y2="939.4" stroke="#2a2a2a" stroke-width="0.9"/>
<line x1="569.17" y1="747.4" x2="569.17" y2="939.4" stroke="#2a2a2a" stroke-width="0.9"/>
<line x1="602.23" y1="747.4" x2="602.23" y2="939.4" stroke="#2a2a2a" stroke-width="0.9"/>
<line x1="635.29" y1="747.4" x2="635.29" y2="939.4" stroke="#2a2a2a" stroke-width="0.9"/>
<line x1="668.34" y1="747.4" x2="668.34" y2="939.4" stroke="#2a2a2a" stroke-width="0.9"/>
<line x1="470" y1="771.4" x2="701.4" y2="771.4" stroke="#2a2a2a" stroke-width="0.9"/>
<line x1="470" y1="795.4" x2="701.4" y2="795.4" stroke="#2a2a2a" stroke-width="0.9"/>
<line x1="470" y1="819.4" x2="701.4" y2="819.4" stroke="#2a2a2a" stroke-width="0.9"/>
<line x1="470" y1="843.4" x2="701.4" y2="843.4" stroke="#2a2a2a" stroke-width="0.9"/>
<line x1="470" y1="867.4" x2="701.4" y2="867.4" stroke="#2a2a2a" stroke-width="0.9"/>
<line x1="470" y1="891.4" x2="701.4" y2="891.4" stroke="#2a2a2a" stroke-width="0.9"/>
<line x1="470" y1="915.4" x2="701.4" y2="915.4" stroke="#2a2a2a" stroke-width="0.9"/>
<rect x="470" y="747.4" width="231.4" height="192" fill="none" stroke="#2a2a2a" stroke-width="1.15"/>
<path d="M470 788L503.3 788L668.3 939.4" fill="none" stroke="#000" stroke-width="1.6" stroke-linejoin="miter"/>
<text x="465.6" y="753.2" font-size="8.4" text-anchor="end" font-weight="normal" fill="#111">0.8</text>
<text x="465.6" y="799.7" font-size="8.4" text-anchor="end" font-weight="normal" fill="#111">0.6</text>
<text x="465.6" y="847.4" font-size="8.4" text-anchor="end" font-weight="normal" fill="#111">0.4</text>
<text x="465.6" y="896.3" font-size="8.4" text-anchor="end" font-weight="normal" fill="#111">0.2</text>
<text x="465.6" y="941.8" font-size="8.4" text-anchor="end" font-weight="normal" fill="#111">0</text>
<text x="469.8" y="949.6" font-size="8.4" text-anchor="middle" font-weight="normal" fill="#111">0</text>
<text x="502.2" y="949.6" font-size="8.4" text-anchor="middle" font-weight="normal" fill="#111">25</text>
<text x="536.4" y="949.6" font-size="8.4" text-anchor="middle" font-weight="normal" fill="#111">50</text>
<text x="569.8" y="949.6" font-size="8.4" text-anchor="middle" font-weight="normal" fill="#111">75</text>
<text x="602.3" y="949.6" font-size="8.4" text-anchor="middle" font-weight="normal" fill="#111">100</text>
<text x="635.5" y="949.6" font-size="8.4" text-anchor="middle" font-weight="normal" fill="#111">125</text>
<text x="667.3" y="949.6" font-size="8.4" text-anchor="middle" font-weight="normal" fill="#111">150</text>
<text x="698.9" y="949.6" font-size="8.4" text-anchor="middle" font-weight="normal" fill="#111">175</text>
<text x="497.4" y="973" font-size="12.27" text-anchor="start" font-weight="normal" fill="#111">Junction temperature</text>
<text x="624" y="973" font-size="12.27" text-anchor="start" font-weight="normal" fill="#111">T</text>
<text x="631.8" y="975" font-size="11" text-anchor="start" font-weight="normal" fill="#111">a</text>
<text x="641" y="973" font-size="12.27" text-anchor="start" font-weight="normal" fill="#111">(℃)</text>
<text transform="translate(436.9 931.3) rotate(-90)" font-size="13.27" fill="#111">Power dissipation</text>
<text transform="translate(436.9 821) rotate(-90)" font-size="13.27" fill="#111">P</text>
<text transform="translate(439.5 812.2) rotate(-90)" font-size="8.8" fill="#111">C</text>
<text transform="translate(436.9 796) rotate(-90)" font-size="13.27" fill="#111">(W)</text>
<text x="568.9" y="997.4" font-size="14" text-anchor="middle" font-weight="bold" fill="#111" xml:space="preserve">Fig.6    Power Derating</text>
<line x1="30.5" y1="1069.4" x2="792.8" y2="1069.4" stroke="#2aa260" stroke-width="2"/>
<text x="41" y="1095.6" font-size="13.25" text-anchor="start" font-weight="bold" fill="#1111cc" text-decoration="underline">www.yfwdiode.com</text>
<text x="248" y="1095.6" font-size="13" text-anchor="start" font-weight="bold" fill="#111">Rev:2024ZH1</text>
<text x="413.6" y="1096.9" font-size="12" text-anchor="middle" font-weight="bold" fill="#111">2 / 3</text>
<text x="771" y="1095.6" font-size="13.2" text-anchor="end" font-weight="bold" fill="#111">GuangDong Youfeng Microelectronics Co,Ltd.</text>
</g>
</svg>
</body>
</html>
